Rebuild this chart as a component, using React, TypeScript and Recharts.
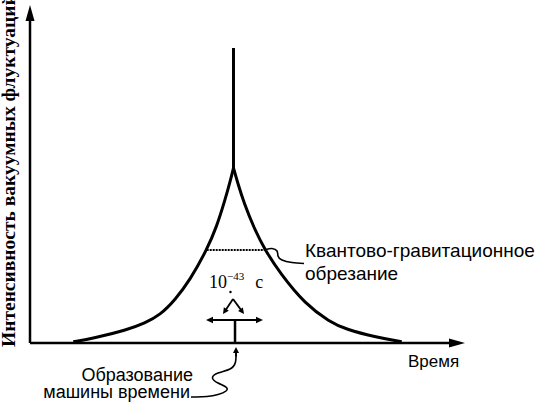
import React from 'react';
import { ComposedChart, Line, XAxis, YAxis, ReferenceLine, ReferenceDot } from 'recharts';

// ---- data (time: arbitrary units 0..100, intensity: arbitrary units) ----
const leftBranchTime = [9.95, 14.55, 22.23, 26.44, 29.89, 33.33, 36.78, 40.62, 42.92, 44.83, 45.98, 46.78];
const leftBranchIntensity = [0.38, 1.39, 3.85, 5.92, 8.28, 12.72, 18.64, 27.51, 34.41, 42.31, 47.63, 51.78];

const rightBranchTime = [46.78, 47.82, 49.2, 51.49, 54.02, 57.47, 63.22, 68.97, 72.41, 79.77, 85.45];
const rightBranchIntensity = [51.78, 47.04, 41.42, 34.02, 27.51, 20.71, 11.54, 6.21, 4.14, 1.63, 0.38];

const spikeTime = [46.78, 46.78];
const spikeIntensity = [51.78, 87.3];

const cutoffTime = [40.62, 54.02];
const cutoffIntensity = [27.51, 27.51];

const cutoffLeaderTime = [54.25, 55.63, 56.78, 57.01, 57.93, 60.23, 62.99];
const cutoffLeaderIntensity = [27.66, 27.96, 27.22, 25.74, 24.56, 23.82, 23.52];

const machineLeaderTime = [47.36, 47.24, 45.98, 43.22, 41.95, 43.22, 45.06, 45.06, 43.22, 40.69, 38.16, 37.01];
const machineLeaderIntensity = [-2.66, -5.62, -7.69, -8.88, -10.36, -11.83, -13.02, -14.2, -15.24, -15.83, -15.98, -15.98];

const axisTimeMax = 100;
const axisIntensityMax = 100;
const intensityMin = -18;

const markTime = 47.13; // moment of time-machine formation
const spanLeft = 40.46;
const spanRight = 53.56;
const spanIntensity = 6.8;
const forkTop = { t: 46.67, v: 13.02 };
const forkEnds = [{ t: 44.37, v: 8.58 }, { t: 49.2, v: 8.58 }];
const forkDot = { t: 46.09, v: 15.09 };
const upArrow = { t: 47.36, from: -4.0, to: -1.2 };

const yLabel = 'Интенсивность вакуумных флуктуаций';
const xLabel = 'Время';
const cutoffLabel = ['Квантово-гравитационное', 'обрезание'];
const machineLabel = ['Образование', 'машины времени'];
const durationBase = '10';
const durationExp = '−43';
const durationUnit = 'с';

const zip = (ts: number[], vs: number[]) => ts.map((t, k) => ({ t, v: vs[k] }));
const leftBranch = zip(leftBranchTime, leftBranchIntensity);
const rightBranch = zip(rightBranchTime, rightBranchIntensity);
const spike = zip(spikeTime, spikeIntensity);
const cutoff = zip(cutoffTime, cutoffIntensity);
const cutoffLeader = zip(cutoffLeaderTime, cutoffLeaderIntensity);
const machineLeader = zip(machineLeaderTime, machineLeaderIntensity);

const arrowShape = (head: number, halfW: number, both: boolean, sw: number) => (p: any) => {
  const { x1, y1, x2, y2 } = p;
  const a = Math.atan2(y2 - y1, x2 - x1);
  const tri = (x: number, y: number, ang: number) => {
    const bx = x - head * Math.cos(ang);
    const by = y - head * Math.sin(ang);
    const nx = -Math.sin(ang) * halfW;
    const ny = Math.cos(ang) * halfW;
    return `${x},${y} ${bx + nx},${by + ny} ${bx - nx},${by - ny}`;
  };
  const sh = head * 0.6;
  const lx2 = x2 - sh * Math.cos(a);
  const ly2 = y2 - sh * Math.sin(a);
  const lx1 = both ? x1 + sh * Math.cos(a) : x1;
  const ly1 = both ? y1 + sh * Math.sin(a) : y1;
  return (
    <g>
      <line x1={lx1} y1={ly1} x2={lx2} y2={ly2} stroke="#000" strokeWidth={sw} />
      <polygon points={tri(x2, y2, a)} fill="#000" />
      {both && <polygon points={tri(x1, y1, a + Math.PI)} fill="#000" />}
    </g>
  );
};

const plainShape = (sw: number) => (p: any) => (
  <line x1={p.x1} y1={p.y1} x2={p.x2} y2={p.y2} stroke="#000" strokeWidth={sw} />
);

const serif = '"Liberation Serif", "Times New Roman", serif';
const sans = '"Liberation Sans", Arial, sans-serif';

export default function App() {
  return (
    <div style={{ position: 'absolute', left: 0, top: 0, width: 537, height: 407, background: '#fff' }}>
      <ComposedChart width={537} height={407} margin={{ top: 5, right: 72, bottom: 3.16, left: 30 }}>
        <XAxis type="number" dataKey="t" domain={[0, axisTimeMax]} allowDataOverflow hide />
        <YAxis type="number" dataKey="v" domain={[intensityMin, axisIntensityMax]} allowDataOverflow hide />

        <ReferenceLine segment={[{ x: 0, y: 0 }, { x: 0, y: axisIntensityMax }]} ifOverflow="visible" shape={arrowShape(16, 4.5, false, 2.5)} />
        <ReferenceLine segment={[{ x: 0, y: 0 }, { x: axisTimeMax, y: 0 }]} ifOverflow="visible" shape={arrowShape(16, 4.5, false, 2.5)} />

        <Line data={leftBranch} dataKey="v" type="basis" stroke="#000" strokeWidth={3} dot={false} isAnimationActive={false} />
        <Line data={rightBranch} dataKey="v" type="basis" stroke="#000" strokeWidth={3} dot={false} isAnimationActive={false} />
        <Line data={spike} dataKey="v" type="linear" stroke="#000" strokeWidth={3} dot={false} isAnimationActive={false} />
        <Line data={cutoff} dataKey="v" type="linear" stroke="#000" strokeWidth={2.2} strokeDasharray="2 1" dot={false} isAnimationActive={false} />
        <Line data={cutoffLeader} dataKey="v" type="natural" stroke="#000" strokeWidth={1.6} dot={false} isAnimationActive={false} />
        <Line data={machineLeader} dataKey="v" type="natural" stroke="#000" strokeWidth={1.6} dot={false} isAnimationActive={false} />

        <ReferenceLine segment={[{ x: spanLeft, y: spanIntensity }, { x: spanRight, y: spanIntensity }]} ifOverflow="visible" shape={arrowShape(7, 3.2, true, 2)} />
        <ReferenceLine segment={[{ x: markTime, y: spanIntensity }, { x: markTime, y: 0 }]} ifOverflow="visible" shape={plainShape(2.5)} />
        {forkEnds.map((e, k) => (
          <ReferenceLine key={k} segment={[{ x: forkTop.t, y: forkTop.v }, { x: e.t, y: e.v }]} ifOverflow="visible" shape={arrowShape(6, 3, false, 1.8)} />
        ))}
        <ReferenceLine segment={[{ x: upArrow.t, y: upArrow.from }, { x: upArrow.t, y: upArrow.to }]} ifOverflow="visible" shape={arrowShape(6, 3, false, 1.8)} />
        <ReferenceDot x={forkDot.t} y={forkDot.v} r={1.2} fill="#000" stroke="none" ifOverflow="visible" />

        <text x={14.5} y={347} transform="rotate(-90 14.5 347)" fontFamily={serif} fontWeight="bold" fontSize={19.5} fill="#000">{yLabel}</text>
        <text x={408} y={367} fontFamily={sans} fontSize={17} fill="#000">{xLabel}</text>
        <text x={305} y={257} fontFamily={sans} fontSize={19} fill="#000">{cutoffLabel[0]}</text>
        <text x={305} y={280} fontFamily={sans} fontSize={19} fill="#000">{cutoffLabel[1]}</text>
        <text x={193} y={381} textAnchor="end" fontFamily={sans} fontSize={18} fill="#000">{machineLabel[0]}</text>
        <text x={190} y={398} textAnchor="end" fontFamily={sans} fontSize={18} fill="#000">{machineLabel[1]}</text>
        <text y={288} fontFamily={serif} fill="#000">
          <tspan x={209} fontSize={18}>{durationBase}</tspan>
          <tspan dy={-8} fontSize={11}>{durationExp}</tspan>
          <tspan dx={11} dy={8} fontSize={18}>{durationUnit}</tspan>
        </text>
      </ComposedChart>
    </div>
  );
}
